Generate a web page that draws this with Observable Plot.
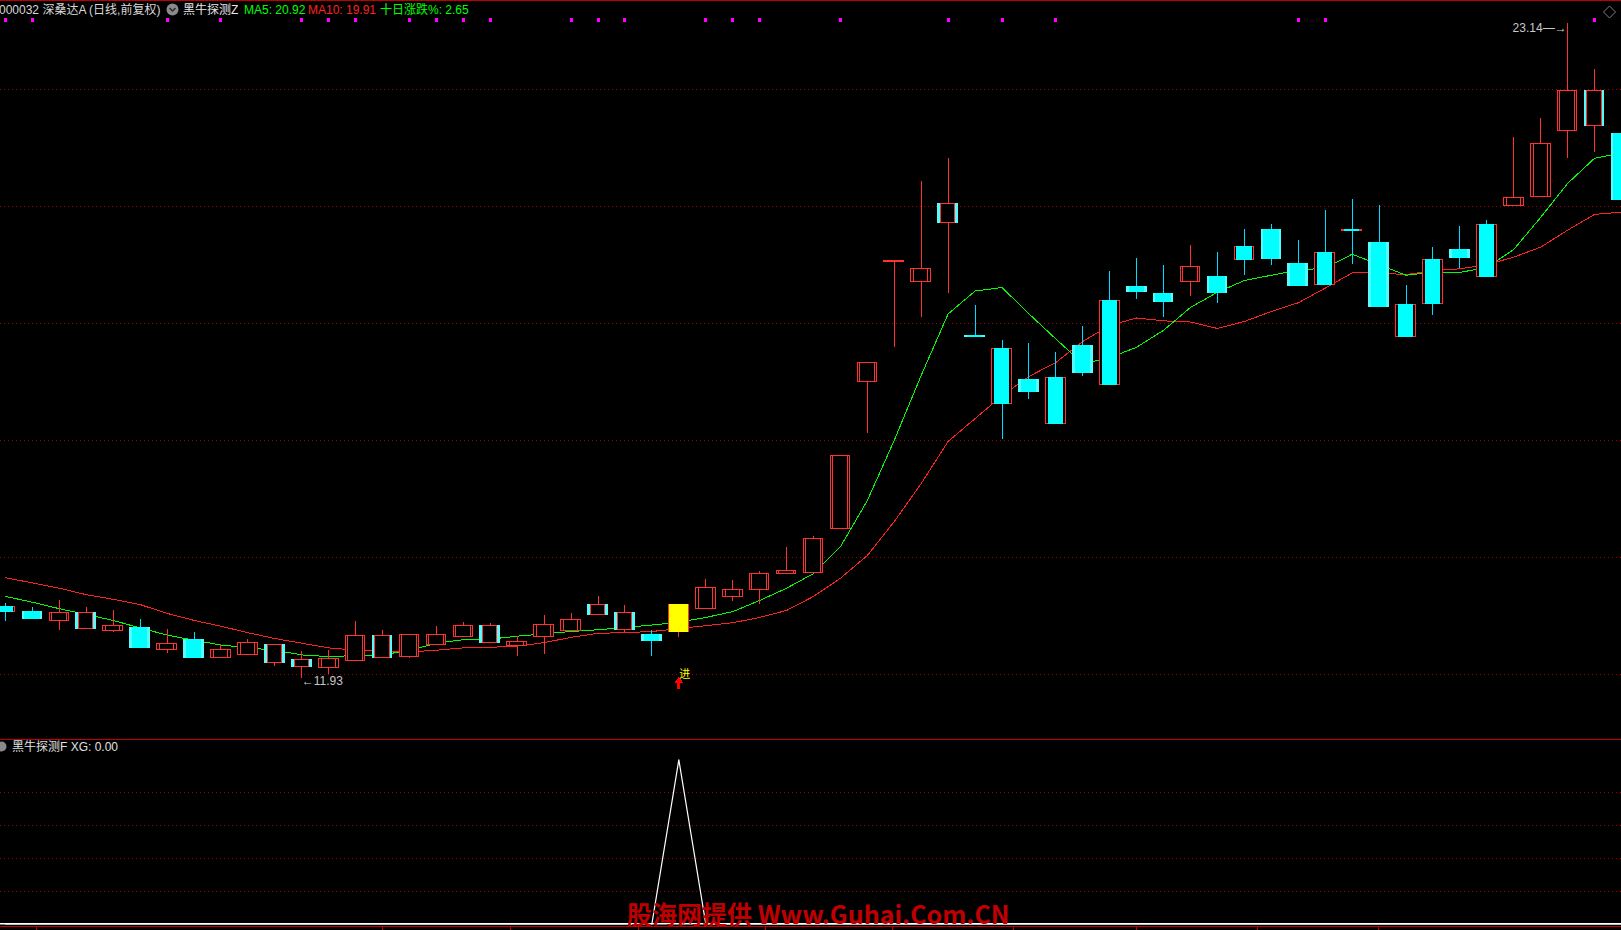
<!DOCTYPE html>
<html><head><meta charset="utf-8">
<script src="https://cdn.jsdelivr.net/npm/d3@7"></script>
<script src="https://cdn.jsdelivr.net/npm/@observablehq/plot@0.6"></script>
<style>
html,body{margin:0;padding:0;background:#000;}
#wrap{position:relative;width:1621px;height:930px;overflow:hidden;background:#000;}
#main{position:absolute;left:0;top:0;}
#sub{position:absolute;left:0;top:739px;}
#ov{position:absolute;left:0;top:0;pointer-events:none;}
#ov text{font-family:"Liberation Sans","Noto Sans CJK SC",sans-serif;font-size:12px;}
</style></head><body>
<div id="wrap"><div id="main"></div><div id="sub"></div>
<svg id="ov" width="1621" height="930" shape-rendering="crispEdges">
  <rect x="0" y="0" width="1621" height="1" fill="#c00000"/>
  <rect x="0" y="739" width="1621" height="1" fill="#c00000"/>
  <rect x="0" y="926" width="1621" height="1" fill="#c00000"/>
  <text x="-1" y="14" fill="#d8d8d8">000032 深桑达A (日线,前复权)</text>
  <circle cx="172.5" cy="9.5" r="6" fill="#8a8a8a" shape-rendering="auto"/>
  <path d="M169.5 8 L172.5 11 L175.5 8" stroke="#2a2a2a" stroke-width="1.5" fill="none" shape-rendering="auto"/>
  <text x="183" y="14" fill="#e8e8e8">黑牛探测Z</text>
  <text x="244" y="14" fill="#00ff00">MA5: 20.92</text>
  <text x="308" y="14" fill="#ff2020">MA10: 19.91</text>
  <text x="380" y="14" fill="#00ff00">十日涨跌%: 2.65</text>
  <polygon points="1609.5,6 1615.5,12 1609.5,18 1603.5,12" fill="none" stroke="#808080" shape-rendering="auto"/>
  <circle cx="1.5" cy="746.5" r="5" fill="#8a8a8a" shape-rendering="auto"/>
  <text x="12" y="751" fill="#e0e0e0">黑牛探测F XG: 0.00</text>
  <text x="627" y="924" fill="#c00000" style="font-family:'Noto Sans CJK SC',sans-serif;font-size:25px;font-weight:bold;">股海网提供 Www.Guhai.Com.CN</text>
</svg>
</div>
<script>
// ---- data ----
const open  = [13.09,13.07,12.92,13.05,12.75,12.80,12.43,12.59,12.30,12.34,12.50,12.24,12.13,12.25,12.66,12.32,12.51,12.66,12.83,12.50,12.66,12.75,13.19,13.05,12.67,12.74,13.14,13.33,13.46,13.73,13.75,14.50,17.01,19.06,18.72,20.04,17.79,16.63,17.03,16.30,17.61,16.97,18.62,18.50,18.72,18.79,19.10,19.60,19.01,18.68,19.60,19.37,17.78,18.34,19.25,18.81,20.03,20.18,21.30,21.97,21.24];
const close = [13.15,12.96,13.05,12.80,12.83,12.46,12.52,12.30,12.42,12.54,12.21,12.15,12.27,12.66,12.30,12.67,12.67,12.83,12.56,12.55,12.84,12.92,13.03,12.78,12.59,13.19,13.48,13.44,13.72,13.77,14.31,15.74,17.32,19.06,18.92,19.74,17.78,17.56,16.85,17.07,17.16,18.38,18.55,18.38,18.96,18.54,19.30,19.12,18.66,19.20,19.60,18.30,18.31,19.08,19.14,19.68,20.15,21.06,21.97,21.39,20.13];
const high  = [13.22,13.15,13.27,13.15,13.10,12.95,12.77,12.72,12.52,12.60,12.50,12.40,12.42,12.91,12.76,12.67,12.83,12.89,12.87,12.66,13.01,13.04,13.34,13.19,12.76,13.21,13.63,13.61,13.77,14.17,14.36,15.74,17.32,19.06,20.43,20.83,18.31,17.71,17.66,17.51,17.95,18.90,19.12,19.00,19.33,19.22,19.61,19.70,19.42,19.94,20.12,20.02,18.66,19.30,19.66,19.77,21.18,21.51,23.14,22.35,21.24];
const low   = [12.91,12.96,12.76,12.80,12.72,12.46,12.37,12.28,12.30,12.34,12.15,11.93,12.00,12.25,12.30,12.28,12.51,12.66,12.53,12.31,12.35,12.75,13.03,12.72,12.31,12.63,13.12,13.26,13.20,13.73,13.75,14.50,16.13,17.60,18.10,18.52,17.78,16.02,16.71,16.30,17.10,16.94,18.42,18.10,18.46,18.34,18.83,18.99,18.63,18.68,19.02,18.30,17.78,18.15,18.95,18.81,20.03,20.18,20.83,20.93,20.13];
const ma5   = [13.34,13.24,13.13,13.03,12.93,12.80,12.68,12.59,12.51,12.46,12.42,12.34,12.31,12.33,12.34,12.42,12.54,12.60,12.61,12.66,12.70,12.74,12.77,12.81,12.85,12.90,12.98,13.08,13.27,13.48,13.73,14.19,14.98,16.01,17.12,18.17,18.56,18.62,18.17,17.74,17.32,17.42,17.60,17.89,18.28,18.54,18.74,18.83,18.92,18.95,19.19,19.01,18.83,18.88,18.88,18.96,19.27,19.82,20.40,20.83,20.92];
const ma10  = [13.66,13.57,13.48,13.37,13.29,13.20,13.05,12.93,12.83,12.72,12.62,12.54,12.46,12.42,12.40,12.39,12.42,12.46,12.47,12.49,12.55,12.64,12.71,12.72,12.74,12.79,12.84,12.89,12.98,13.10,13.34,13.65,14.04,14.62,15.27,15.99,16.38,16.77,17.10,17.34,17.70,17.97,18.10,18.05,18.03,17.92,18.04,18.21,18.36,18.61,18.87,18.87,18.84,18.91,18.94,19.01,19.14,19.31,19.60,19.87,19.91];
// tone of the indicator's overlay candle: R red hollow, C cyan, Y yellow
const overlayTone = ["C","C","R","R","R","C","R","C","R","R","R","R","R","R","R","R","R","R","R","R","R","R","R","R","C","Y","R","R","R","R","R","R","R","R","R","R","C","C","C","C","C","C","C","C","R","C","C","C","C","C","C","C","C","C","C","C","R","R","R","R","C"];
const xg = open.map(() => 0); // XG signal line
const xgSignalDays = [25];
xgSignalDays.forEach(i => xg[i] = 1);
const dotDays = [0,1,6,8,11,12,13,15,16,17,18,21,22,23,26,27,28,31,35,37,39,48,49,59];
const priceGrid = [12,14,16,18,20,22];
const xgGrid = [0.2,0.4,0.6,0.8];
const timeTicks = [1.15,14.0,18.74,23.5,28.2,32.94,37.43,42.0,46.5,50.98];

// ---- styles ----
const RED = "#ff3232", CYAN_W = "#54fcfc", CYAN_N = "#00ffff", WICK_C = "#00dcff";
const GRID = "#a00000";
const HW = 0.365, HN = 0.265, HY = 0.345;
const FONT = "Liberation Sans, Noto Sans CJK SC, sans-serif";

const rows = open.map((o, i) => ({i, o, c: close[i], h: high[i], l: low[i], ma5: ma5[i], ma10: ma10[i], t: overlayTone[i], xg: xg[i]}));
const xScale = {type: "linear", domain: [0, 60], range: [5, 1621], axis: null};

const arrowUp = {draw(ctx) {
  ctx.moveTo(0, -6); ctx.lineTo(4.5, 0); ctx.lineTo(1.5, 0); ctx.lineTo(1.5, 6);
  ctx.lineTo(-1.5, 6); ctx.lineTo(-1.5, 0); ctx.lineTo(-4.5, 0); ctx.closePath();
}};

const iLow = d3.minIndex(low), iHigh = d3.maxIndex(high);
const signalRows = rows.filter(d => d.xg === 1);

const main = Plot.plot({
  width: 1621, height: 739, margin: 0,
  style: {background: "#000", color: "#fff", fontFamily: FONT, overflow: "visible", shapeRendering: "crispEdges"},
  x: xScale,
  y: {type: "linear", domain: [12, 22], range: [674.3, 89.3], axis: null},
  marks: [
    Plot.ruleY(priceGrid, {stroke: GRID, strokeDasharray: "1,3"}),
    Plot.line(rows, {x: "i", y: "ma10", stroke: "#ff2020", strokeWidth: 1}),
    Plot.line(rows, {x: "i", y: "ma5", stroke: "#00ff00", strokeWidth: 1}),
    Plot.ruleX(rows, {x: "i", y1: "l", y2: "h", stroke: d => d.t === "C" ? WICK_C : RED}),
    Plot.rect(rows, {x1: d => d.i - HW, x2: d => d.i + HW, y1: "o", y2: "c",
      fill: d => d.c >= d.o ? "#000" : CYAN_W, stroke: d => d.c >= d.o ? RED : CYAN_W,
      insetTop: -0.5, insetBottom: -0.5}),
    Plot.rect(rows.filter(d => d.t !== "Y"), {x1: d => d.i - HN, x2: d => d.i + HN, y1: "o", y2: "c",
      fill: d => d.t === "R" ? "#000" : CYAN_N, stroke: d => d.t === "R" ? RED : CYAN_N,
      insetTop: -0.5, insetBottom: -0.5}),
    Plot.rect(rows.filter(d => d.t === "Y"), {x1: d => d.i - HY, x2: d => d.i + HY, y1: "o", y2: "c",
      fill: "#ffff00", insetTop: -0.5, insetBottom: -0.5}),
    Plot.dot(dotDays, {x: d => d, frameAnchor: "top", dy: 19.5, symbol: "square", r: 1.7, fill: "#ff00ff", stroke: null}),
    Plot.text([rows[iLow]], {x: "i", y: "l", text: d => "←" + d.l.toFixed(2), textAnchor: "start", dy: 2.5, fill: "#c8c8c8", fontSize: 12}),
    Plot.text([rows[iHigh]], {x: "i", y: "h", text: d => d.h.toFixed(2) + "—→", textAnchor: "end", dx: -1, dy: 5, fill: "#c8c8c8", fontSize: 12}),
    Plot.dot(signalRows, {x: "i", y: "l", dy: 45, symbol: arrowUp, fill: "#ff0000", stroke: null}),
    Plot.text(signalRows, {x: "i", y: "l", text: () => "进", dx: 6, dy: 37, fill: "#ffff00", fontSize: 11})
  ]
});
document.getElementById("main").appendChild(main);

const sub = Plot.plot({
  width: 1621, height: 191, margin: 0,
  style: {background: "#000", color: "#fff", fontFamily: FONT, overflow: "visible"},
  x: xScale,
  y: {type: "linear", domain: [0, 1], range: [184.3, 20.3], axis: null},
  marks: [
    Plot.ruleY(xgGrid, {stroke: GRID, strokeDasharray: "1,3", shapeRendering: "crispEdges"}),
    Plot.ruleY([0], {stroke: "#ffffff", strokeWidth: 1.6}),
    Plot.line(rows, {x: "i", y: "xg", stroke: "#ffffff", strokeWidth: 1.2}),
    Plot.ruleX(timeTicks, {x: d => d, stroke: "#c00000", insetTop: 188, shapeRendering: "crispEdges"})
  ]
});
document.getElementById("sub").appendChild(sub);
</script>
</body></html>
